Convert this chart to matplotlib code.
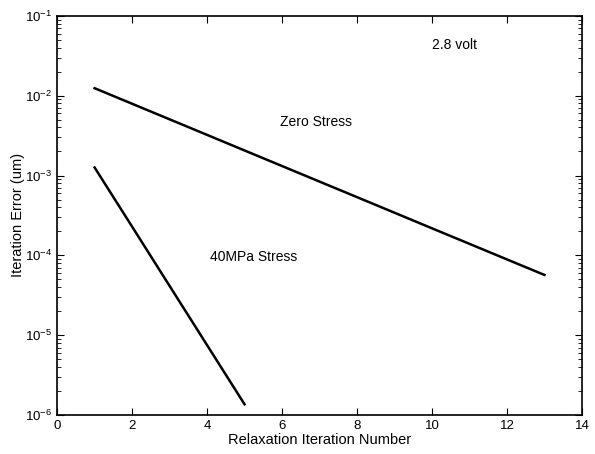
import matplotlib
matplotlib.use("Agg")
import matplotlib.pyplot as plt
from matplotlib.ticker import LogLocator

plt.rcParams['font.family'] = ['Liberation Sans', 'DejaVu Sans']

# iteration error vs relaxation iteration
zero_iter = [1, 2, 3, 4, 5, 6, 7, 8, 9, 10, 11, 12, 13]
zero_err = [1.242e-2, 7.93e-3, 5.06e-3, 3.23e-3, 2.06e-3, 1.315e-3, 8.39e-4,
            5.36e-4, 3.42e-4, 2.18e-4, 1.393e-4, 8.89e-5, 5.68e-5]
mpa_iter = [1, 2, 3, 4, 5]
mpa_err = [1.26e-3, 2.29e-4, 4.14e-5, 7.5e-6, 1.36e-6]

fig = plt.figure(figsize=(5.95, 4.54), dpi=100)
ax = fig.add_axes([0.096, 0.086, 0.882, 0.879])

ax.semilogy(zero_iter, zero_err, color='black', lw=1.8)
ax.semilogy(mpa_iter, mpa_err, color='black', lw=1.8)

ax.set_xlim(0, 14)
ax.set_ylim(1e-6, 1e-1)
ax.set_xticks([0, 2, 4, 6, 8, 10, 12, 14])
ax.yaxis.set_major_locator(LogLocator(base=10, numticks=10))
ax.yaxis.set_minor_locator(LogLocator(base=10, subs=range(2, 10), numticks=20))
ax.tick_params(which='both', direction='in', top=True, right=True, labelsize=9.5)
ax.tick_params(which='major', length=5)
ax.tick_params(which='minor', length=3)
for s in ax.spines.values():
    s.set_linewidth(1.2)

ax.set_xlabel('Relaxation Iteration Number', fontsize=10.5, labelpad=1)
ax.set_ylabel('Iteration Error (um)', fontsize=10.5, labelpad=0)

ax.text(10.6, 4.3e-2, '2.8 volt', fontsize=10, ha='center', va='center')
ax.text(6.9, 4.7e-3, 'Zero Stress', fontsize=10, ha='center', va='center')
ax.text(5.25, 9.5e-5, '40MPa Stress', fontsize=10, ha='center', va='center')

fig.savefig('out.png', dpi=100)
